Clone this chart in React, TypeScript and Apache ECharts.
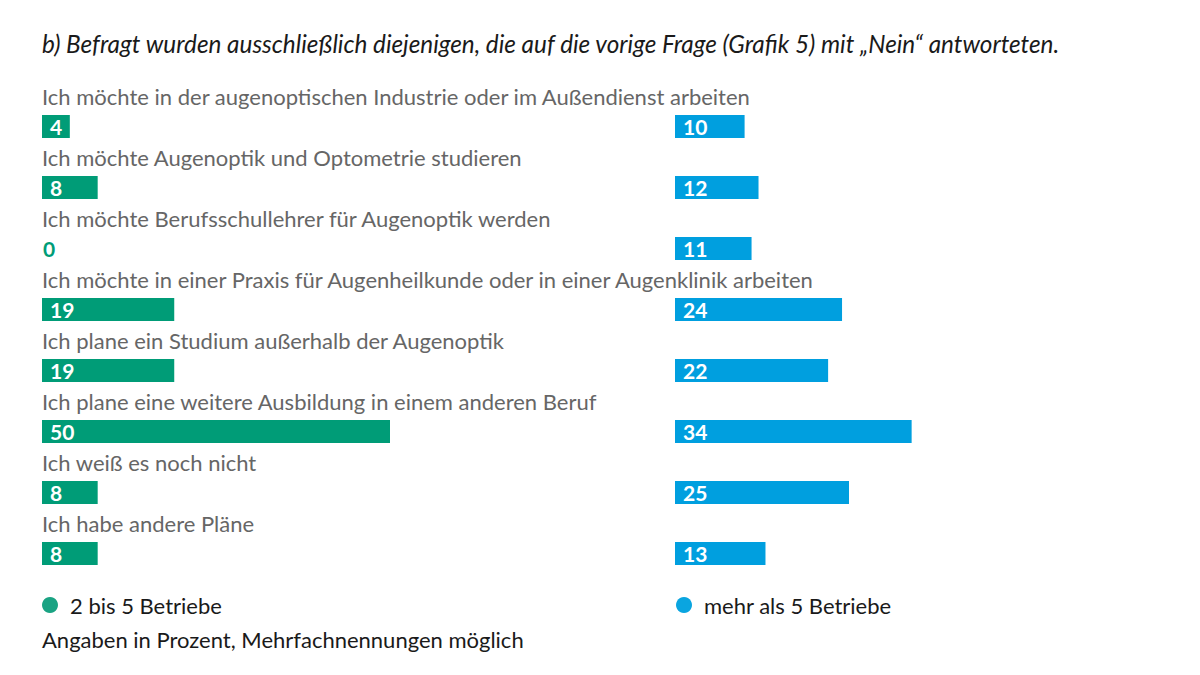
import React, { useEffect, useRef } from "react";
import * as echarts from "echarts";

const titleText =
  "b) Befragt wurden ausschließlich diejenigen, die auf die vorige Frage (Grafik 5) mit „Nein“ antworteten.";
const footnote = "Angaben in Prozent, Mehrfachnennungen möglich";
const categories = [
  "Ich möchte in der augenoptischen Industrie oder im Außendienst arbeiten",
  "Ich möchte Augenoptik und Optometrie studieren",
  "Ich möchte Berufsschullehrer für Augenoptik werden",
  "Ich möchte in einer Praxis für Augenheilkunde oder in einer Augenklinik arbeiten",
  "Ich plane ein Studium außerhalb der Augenoptik",
  "Ich plane eine weitere Ausbildung in einem anderen Beruf",
  "Ich weiß es noch nicht",
  "Ich habe andere Pläne",
];
const seriesNames = ["2 bis 5 Betriebe", "mehr als 5 Betriebe"];
const valuesSmall = [4, 8, 0, 19, 19, 50, 8, 8];
const valuesLarge = [10, 12, 11, 24, 22, 34, 25, 13];

const GREEN = "#009c77";
const BLUE = "#009fdf";
const GREEN_DOT = "#1aa383";
const BLUE_DOT = "#0aa5e0";
const FONT = "Lato";

function toData(values: number[], color: string) {
  return values.map((v) =>
    v === 0 ? { value: v, label: { color, distance: 1 } } : { value: v }
  );
}

export default function App() {
  const ref = useRef<HTMLDivElement>(null);
  useEffect(() => {
    if (!ref.current) return;
    const chart = echarts.init(ref.current, undefined, { renderer: "svg" });
    const barLabel = {
      show: true,
      position: "insideLeft",
      distance: 8,
      color: "#fff",
      fontFamily: FONT,
      fontWeight: "bold",
      fontSize: 21,
    };
    const legendBase = {
      top: 594,
      icon: "circle",
      itemWidth: 16,
      itemHeight: 16,
      padding: 0,
      textStyle: {
        fontFamily: FONT,
        fontSize: 22,
        color: "#1a1a1a",
        padding: [0, 0, 0, 7],
      },
    };
    chart.setOption({
      animation: false,
      backgroundColor: "#fff",
      textStyle: { fontFamily: FONT },
      title: [
        {
          text: titleText,
          left: 42,
          top: 31,
          padding: 0,
          textStyle: {
            fontFamily: FONT,
            fontStyle: "italic",
            fontWeight: "normal",
            fontSize: 24.3,
            color: "#1a1a1a",
          },
        },
        {
          text: footnote,
          left: 42,
          top: 628,
          padding: 0,
          textStyle: {
            fontFamily: FONT,
            fontWeight: "normal",
            fontSize: 22,
            color: "#1a1a1a",
          },
        },
      ],
      legend: [
        { ...legendBase, data: [{ name: seriesNames[0], itemStyle: { color: GREEN_DOT } }], left: 42 },
        { ...legendBase, data: [{ name: seriesNames[1], itemStyle: { color: BLUE_DOT } }], left: 676 },
      ],
      grid: [
        { left: 42, top: 96, width: 348, height: 488 },
        { left: 675, top: 96, width: 348, height: 488 },
      ],
      xAxis: [
        { type: "value", gridIndex: 0, min: 0, max: 50, show: false },
        { type: "value", gridIndex: 1, min: 0, max: 50, show: false },
      ],
      yAxis: [
        {
          type: "category",
          gridIndex: 0,
          data: categories,
          inverse: true,
          axisLine: { show: false },
          axisTick: { show: false },
          splitLine: { show: false },
          axisLabel: {
            inside: true,
            margin: 0,
            align: "left",
            verticalAlign: "middle",
            formatter: (v: string) => `{t|${v}}\n{s|\u00a0}`,
            rich: {
              t: {
                fontFamily: FONT,
                fontSize: 22,
                lineHeight: 24,
                color: "#666666",
              },
              s: { fontSize: 10, lineHeight: 61 },
            },
          },
        },
        {
          type: "category",
          gridIndex: 1,
          data: categories,
          inverse: true,
          show: false,
        },
      ],
      series: [
        {
          name: seriesNames[0],
          type: "bar",
          xAxisIndex: 0,
          yAxisIndex: 0,
          data: toData(valuesSmall, GREEN),
          barWidth: 23,
          itemStyle: { color: GREEN },
          label: barLabel,
        },
        {
          name: seriesNames[1],
          type: "bar",
          xAxisIndex: 1,
          yAxisIndex: 1,
          data: toData(valuesLarge, BLUE),
          barWidth: 23,
          itemStyle: { color: BLUE },
          label: barLabel,
        },
      ],
    });
    return () => chart.dispose();
  }, []);
  return (
    <div
      ref={ref}
      style={{ position: "fixed", left: 0, top: 0, width: 1200, height: 675 }}
    />
  );
}
